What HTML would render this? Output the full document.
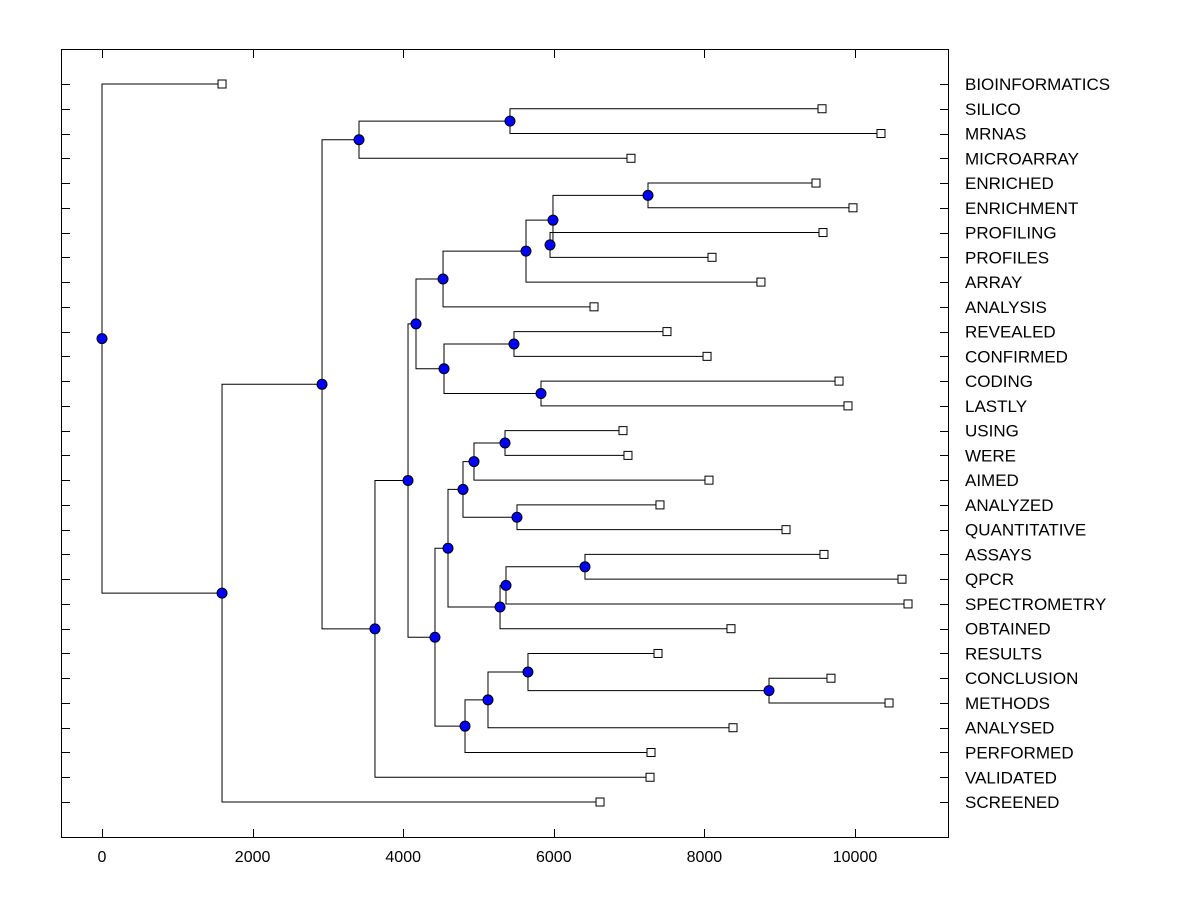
<!DOCTYPE html>
<html><head><meta charset="utf-8"><style>
html,body{margin:0;padding:0;background:#fff;}
svg{display:block;}
text{font-family:"Liberation Sans",Arial,sans-serif;}
</style></head><body>
<svg id="chart" width="1200" height="900" xmlns="http://www.w3.org/2000/svg">
<rect x="61.5" y="49.5" width="887" height="788" fill="none" stroke="#000" stroke-width="1"/>
<g id="ticks"></g>
<g id="links"></g>
<g id="marks"></g>
<g id="labels"></g>
</svg>
<script>
const leafNames = ["BIOINFORMATICS","SILICO","MRNAS","MICROARRAY","ENRICHED","ENRICHMENT","PROFILING","PROFILES","ARRAY","ANALYSIS","REVEALED","CONFIRMED","CODING","LASTLY","USING","WERE","AIMED","ANALYZED","QUANTITATIVE","ASSAYS","QPCR","SPECTROMETRY","OBTAINED","RESULTS","CONCLUSION","METHODS","ANALYSED","PERFORMED","VALIDATED","SCREENED"];
const leafHeights = [1594,9562,10345,7025,9482,9973,9575,8101,8751,6534,7503,8035,9788,9907,6919,6985,8061,7410,9084,9588,10624,10704,8353,7384,9681,10452,8380,7291,7278,6614];
const nodeIds = ["root","n1","n2","n3","n4","n5","n6","n7","n8","n9","n10","n11","n12","n13","n14","n15","n16","n17","n18","n19","n20","n21","n22","n23","n24","n25","n26","n27","n28"];
const nodeHeights = [0,1594,2922,3413,5418,3625,4064,4170,4529,5631,5989,7251,5950,4542,5471,5830,4422,4595,4794,4940,5352,5511,5286,5365,6414,4821,5126,5657,8858];
const nodeChildA = ["L0","Nn2","Nn3","Nn4","L1","Nn6","Nn7","Nn8","Nn9","Nn10","Nn11","L4","L6","Nn14","L10","L12","Nn17","Nn18","Nn19","Nn20","L14","L17","Nn23","Nn24","L19","Nn26","Nn27","L23","L24"];
const nodeChildB = ["Nn1","L29","Nn5","L3","L2","L28","Nn16","Nn13","L9","L8","Nn12","L5","L7","Nn15","L11","L13","Nn25","Nn22","Nn21","L16","L15","L18","L22","L21","L20","L27","L26","Nn28","L25"];
const xTicks = [0,2000,4000,6000,8000,10000];

const NS="http://www.w3.org/2000/svg";
const X0=102, PX=0.0753, Y0=84, DY=24.759;
const sx=v=>X0+v*PX, sy=i=>Y0+i*DY;
const nodes={};
nodeIds.forEach((id,i)=>{nodes[id]={h:nodeHeights[i],a:nodeChildA[i],b:nodeChildB[i]};});
function mk(tag,attrs,parent){const e=document.createElementNS(NS,tag);for(const k in attrs)e.setAttribute(k,attrs[k]);parent.appendChild(e);return e;}
const gT=document.getElementById('ticks'),gL=document.getElementById('links'),gM=document.getElementById('marks'),gX=document.getElementById('labels');
xTicks.forEach(t=>{
  const x=Math.round(sx(t))+0.5;
  let l=mk('line',{x1:x,x2:x,y1:49,y2:58,stroke:'#000'},gT);
  
  
  l=mk('line',{x1:x,x2:x,y1:829,y2:838,stroke:'#000'},gT);
  
  
  const tx=mk('text',{x:sx(t),y:862,'text-anchor':'middle','font-size':'16'},gX);
  tx.textContent=String(t);
  
  
});
leafNames.forEach((n,i)=>{
  const y=Math.round(sy(i))+0.5;
  let l=mk('line',{x1:61,x2:70,y1:y,y2:y,stroke:'#000'},gT);
  
  
  l=mk('line',{x1:940,x2:949,y1:y,y2:y,stroke:'#000'},gT);
  
  
  const tx=mk('text',{x:965,y:sy(i)+6,'font-size':'17'},gX);
  tx.textContent=n;
  
  
});
const circles=[],squares=[];
function place(ref){
  if(ref[0]==='L'){const i=+ref.slice(1);squares.push([sx(leafHeights[i]),sy(i)]);return {x:sx(leafHeights[i]),y:sy(i)};}
  const nd=nodes[ref.slice(1)];
  const A=place(nd.a),B=place(nd.b);
  const x=sx(nd.h),y=(A.y+B.y)/2;
  const p=mk('polyline',{points:`${A.x},${A.y} ${x},${A.y} ${x},${B.y} ${B.x},${B.y}`,fill:'none',stroke:'#000','stroke-width':'1'},gL);
  
  
  circles.push([x,y]);
  return {x,y};
}
place("Nroot");
squares.forEach(([x,y])=>{
  const s=mk('rect',{x:x-4,y:y-4,width:8,height:8,fill:'#fff',stroke:'#000'},gM);
  
  
});
circles.forEach(([x,y])=>{
  const c=mk('circle',{cx:x,cy:y,r:5,fill:'#0000ff',stroke:'#000','stroke-width':'1'},gM);
  
  
});
</script>
</body></html>
